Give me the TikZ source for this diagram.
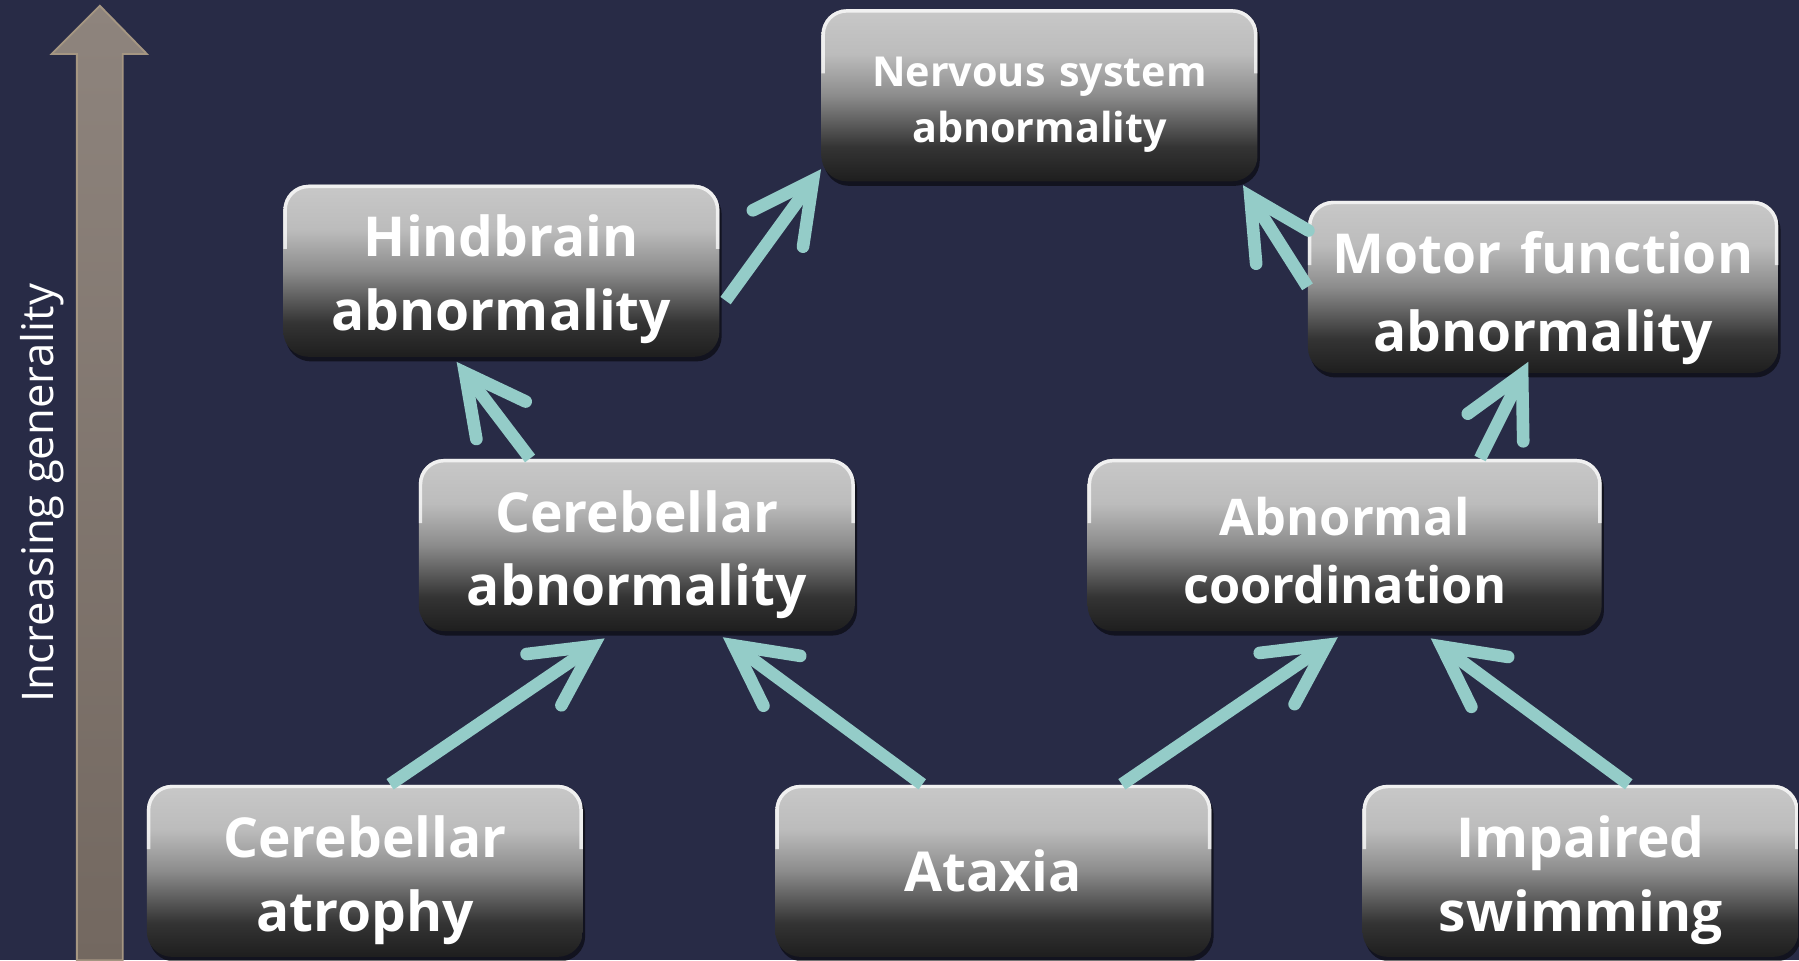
\documentclass[tikz,border=0pt]{standalone}
\usepackage{fontspec}
\newfontfamily\boxfont{Open Sans}
\usetikzlibrary{arrows.meta, positioning, shadows}
\usepackage{xcolor}
\definecolor{BgNavy}  {RGB}{40,43,70}
\definecolor{LinkTeal}{RGB}{148,204,200}
\definecolor{BoxTop}  {RGB}{200,200,200}
\definecolor{BoxUpper}{RGB}{188,188,188}
\definecolor{BoxMid}  {RGB}{140,140,140}
\definecolor{BoxLow}  {RGB}{52,52,52}
\definecolor{BoxBot}  {RGB}{30,30,30}
\definecolor{GenTop}  {RGB}{142,132,125}
\definecolor{GenBot}  {RGB}{115,104,96}
\definecolor{GenLine} {RGB}{165,150,130}
\pgfdeclareverticalshading{glossbox}{100bp}{color(0bp)=(BoxBot); color(25bp)=(BoxBot);
  color(35bp)=(BoxLow); color(50bp)=(BoxMid); color(62bp)=(BoxUpper);
  color(75bp)=(BoxTop); color(100bp)=(BoxTop)}
\tikzset{
  % Glossy term box with optional width (default 190pt)
  term/.style={
    rectangle, rounded corners=11pt, shading=glossbox,
    drop shadow={shadow xshift=1pt, shadow yshift=-2pt, opacity=0.55, fill=black},
    path picture={
      \draw[white, opacity=0.75, line width=3pt, rounded corners=11pt]
        ([yshift=-28pt]path picture bounding box.north west)
        |- (path picture bounding box.north east) -- ++(0,-28pt);
    },
    text=white, align=center, inner sep=0pt, text width=#1,
    minimum width=#1, minimum height=75pt,
    font=\boxfont\bfseries\fontsize{24}{32}\selectfont
  },
  term/.default=190pt,
  % first-line strut, pushes the text a little below the middle
  lower/.style={execute at begin node={\rule{0pt}{#1}}},
  % space after the last line, moves the text up or down a little
  raise/.style={execute at end node={\par\vspace*{#1}}},
  termsmall/.style={font=\boxfont\bfseries\fontsize{18}{24.5}\selectfont, raise=-8.25pt},
  termmid/.style  ={font=\boxfont\bfseries\fontsize{22}{29.5}\selectfont, raise=-5pt},
  link/.style={draw=LinkTeal, line width=5.5pt,
    -{Straight Barb[length=26pt, width=27pt, line cap=round]}}
}

\begin{document}
\begin{tikzpicture}[x=0.5pt, y=-0.5pt]

  \useasboundingbox[fill=BgNavy] (0,0) rectangle (1568,837);

  %% ── Generality axis ───────────────────────────────────────────────────────
  \draw[GenLine, line width=0.8pt, top color=GenTop, bottom color=GenBot]
    (67,837) -- (67,47) -- (45,47) -- (87,5) -- (128,47) -- (107,47) -- (107,837) -- cycle;
  \node[rotate=90, text=white, font=\boxfont\fontsize{19}{22}\selectfont] (genlbl) at (37,430)
    {Increasing generality};

  %% ── Leaf terms (bottom row) ───────────────────────────────────────────────
  \node[term, lower=26.5pt] (catr) at (318,759) {Cerebellar\\atrophy};
  \node[term, raise=-2pt, right=83.5pt of catr]  (atax) {Ataxia};
  \node[term, lower=26.5pt, right=65.5pt of atax] (swim) {Impaired\\swimming};

  %% ── Intermediate terms ────────────────────────────────────────────────────
  \node[term, lower=26.5pt] (cabn) at (555,475) {Cerebellar\\abnormality};
  \node[term=224pt, termmid] (coord) at (1172,475) {Abnormal\\coordination};

  \node[term, lower=25.5pt] (hind) at (437,236) {Hindbrain\\abnormality};
  \node[term=205pt, lower=28pt, font=\boxfont\bfseries\fontsize{24}{34}\selectfont] (motor)
    at (1345,250) {Motor function\\abnormality};

  %% ── Root term ─────────────────────────────────────────────────────────────
  \node[term, termsmall] (nerv) at (906,83) {Nervous system\\abnormality};

  %% ── is-a links ────────────────────────────────────────────────────────────
  \draw[link] ([xshift=11pt]catr.north)  -- ([xshift=-14pt, yshift=-3pt]cabn.south);
  \draw[link] ([xshift=-31pt]atax.north) -- ([xshift=37.5pt, yshift=-2.5pt]cabn.south);
  \draw[link] ([xshift=56pt]atax.north)  -- ([xshift=-3pt, yshift=-2.5pt]coord.south);
  \draw[link] ([xshift=21pt]swim.north)  -- ([xshift=37.5pt, yshift=-3pt]coord.south);
  \draw[link] ([xshift=-46.5pt]cabn.north) -- ([xshift=-19.5pt, yshift=-2pt]hind.south);
  \draw[link] ([xshift=59pt]coord.north) -- ([xshift=-6.5pt, yshift=5pt]motor.south);
  \draw[link] ([xshift=2.5pt, yshift=-13pt]hind.east) -- ([yshift=5.5pt]nerv.south west);
  \draw[link] (motor.west) -- ([xshift=-6.5pt, yshift=-1.5pt]nerv.south east);

\end{tikzpicture}
\end{document}
